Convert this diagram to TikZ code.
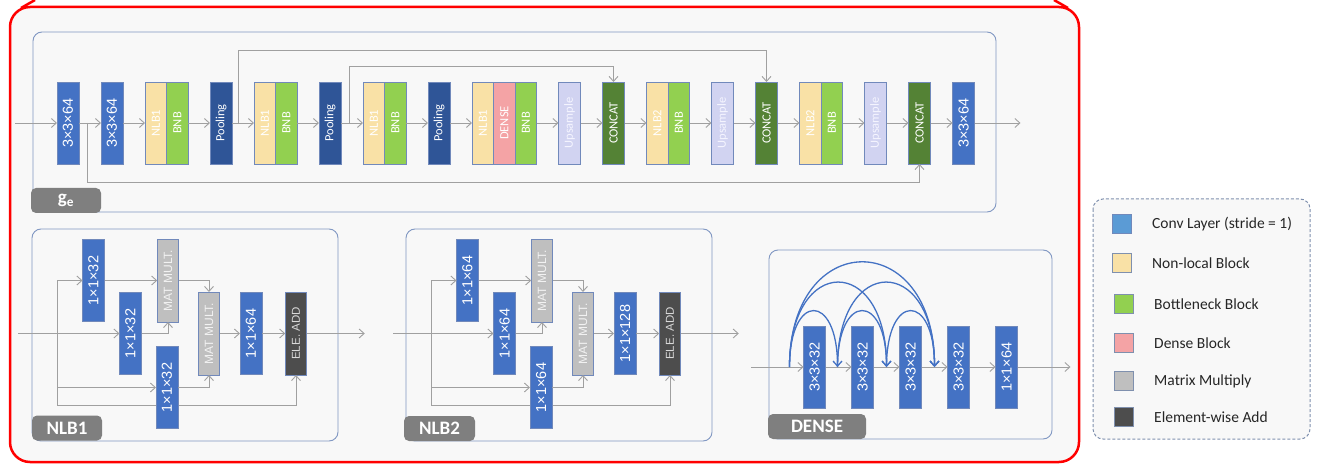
\documentclass[tikz,border=0pt]{standalone}
\usepackage{fontspec}
\setmainfont{Carlito}
\newfontfamily\dimfont{Liberation Sans}
\usepackage{xcolor}
\usepackage{tikz}
\usetikzlibrary{positioning}
\usetikzlibrary{arrows.meta}
\definecolor{convblue}{HTML}{4472C4}
\definecolor{pooldark}{HTML}{2F5597}
\definecolor{nlbyellow}{HTML}{F9E1A6}
\definecolor{bnbgreen}{HTML}{92D050}
\definecolor{densepink}{HTML}{F4A3A5}
\definecolor{upslav}{HTML}{D1D3F1}
\definecolor{catgreen}{HTML}{548235}
\definecolor{mmgray}{HTML}{BFBFBF}
\definecolor{addgray}{HTML}{4D4D4D}
\definecolor{boxline}{HTML}{7189BB}
\definecolor{panelline}{HTML}{8097C2}
\definecolor{linegray}{HTML}{A0A0A0}
\definecolor{tabgray}{HTML}{7F7F7F}
\definecolor{bgfill}{HTML}{F8F8F8}
\definecolor{keyblue}{HTML}{5B9BD5}
\definecolor{keyline}{HTML}{7F90AE}
\tikzset{edge/.style = {-{Straight Barb[length=5pt,width=9pt]}, linegray, line width=0.9pt}}
\newcommand{\vlab}[1]{\rotatebox{90}{#1}}

\begin{document}
\begin{tikzpicture}[x=1pt,y=-1pt,
  blk/.style={draw=boxline,line width=0.8pt,outer sep=0pt,inner sep=0pt,minimum width=21.5pt,minimum height=82pt,text=white,font=\fontsize{12.5}{13}\selectfont},
  conv/.style={blk,fill=convblue,minimum width=22pt,font=\dimfont\fontsize{14.5}{15}\selectfont},
  pool/.style={blk,fill=pooldark,minimum width=22pt},
  nlb/.style={blk,fill=nlbyellow},
  bnb/.style={blk,fill=bnbgreen},
  dns/.style={blk,fill=densepink},
  ups/.style={blk,fill=upslav,minimum width=22pt,text=white!96!blue},
  cat/.style={blk,fill=catgreen,minimum width=22pt},
  mm/.style={blk,fill=mmgray,minimum height=83pt,text=white!95!black,font=\dimfont\fontsize{12}{12}\selectfont},
  add/.style={blk,fill=addgray,minimum height=83pt,text=white!85!black,font=\dimfont\fontsize{11.5}{12}\selectfont},
  panel/.style={draw=panelline,line width=0.9pt,rounded corners=9pt,fill=bgfill},
  tab/.style={fill=tabgray,rounded corners=5pt,text=white,inner sep=0pt,minimum height=25pt,font=\bfseries\fontsize{19}{20}\selectfont},
  arc/.style={-{Straight Barb[length=5pt,width=9pt]},draw=convblue,line width=1.3pt},
  key/.style={draw=keyline,line width=1pt,minimum size=19pt,inner sep=0pt},
  keytext/.style={inner sep=0pt,anchor=west,text=black!85,font=\fontsize{15.5}{16}\selectfont}]
\useasboundingbox (0,0) rectangle (1321,470);
\draw[red,line width=2.5pt,fill=bgfill,rounded corners=20pt] (10,7) rectangle (1079,462);
\draw[red,line width=2.5pt] (21,8) -- (35,0);
\draw[red,line width=2.5pt] (1054,0) -- (1068,8);
\draw[panel] (33,32) rectangle (996,212);
\draw[panel] (32,229) rectangle (338,441);
\draw[panel] (406,229) rectangle (712,441);
\draw[panel] (769,250) rectangle (1052,439);
\draw[draw=keyline,fill=bgfill,line width=1pt,dash pattern=on 3pt off 2pt,rounded corners=10pt] (1093,199) rectangle (1310,439);

\node[tab,minimum width=70pt] (tge) at (66,200.5) {g\textsubscript{e}};
\node[tab,minimum width=70pt] (tn1) at (67,428) {NLB1};
\node[tab,minimum width=71pt] (tn2) at (439.5,428.5) {NLB2};
\node[tab,minimum width=98pt] (tds) at (817,426.5) {DENSE};

\node[conv] (c1) at (68,123) {\vlab{3×3×64}};
\node[conv,right=22pt of c1] (c2) {\vlab{3×3×64}};
\node[nlb,right=22pt of c2] (e1a) {\vlab{NLB1}};
\node[bnb,right=0pt of e1a] (e1b) {\vlab{BNB}};
\node[pool,right=22pt of e1b] (p1) {\vlab{Pooling}};
\node[nlb,right=22pt of p1] (e2a) {\vlab{NLB1}};
\node[bnb,right=0pt of e2a] (e2b) {\vlab{BNB}};
\node[pool,right=22pt of e2b] (p2) {\vlab{Pooling}};
\node[nlb,right=22pt of p2] (e3a) {\vlab{NLB1}};
\node[bnb,right=0pt of e3a] (e3b) {\vlab{BNB}};
\node[pool,right=22pt of e3b] (p3) {\vlab{Pooling}};
\node[nlb,right=22pt of p3] (mida) {\vlab{NLB1}};
\node[dns,right=0pt of mida] (midb) {\vlab{DENSE}};
\node[bnb,right=0pt of midb] (midc) {\vlab{BNB}};
\node[ups,right=22pt of midc] (u1) {\vlab{Upsample}};
\node[cat,right=22pt of u1] (k1) {\vlab{CONCAT}};
\node[nlb,right=22pt of k1] (d1a) {\vlab{NLB2}};
\node[bnb,right=0pt of d1a] (d1b) {\vlab{BNB}};
\node[ups,right=22pt of d1b] (u2) {\vlab{Upsample}};
\node[cat,right=22pt of u2] (k2) {\vlab{CONCAT}};
\node[nlb,right=22pt of k2] (d2a) {\vlab{NLB2}};
\node[bnb,right=0pt of d2a] (d2b) {\vlab{BNB}};
\node[ups,right=22pt of d2b] (u3) {\vlab{Upsample}};
\node[cat,right=22pt of u3] (k3) {\vlab{CONCAT}};
\node[conv,right=22pt of k3] (c3) {\vlab{3×3×64}};
\coordinate (gin) at (15,123);
\coordinate[right=46pt of c3] (gout);
\coordinate[right=8pt of c1] (sk0);
\coordinate[right=6pt of p1] (sk1);
\coordinate[right=8pt of p2] (sk2);
\path[edge] (gin) edge (c1) (c1) edge (c2) (c2) edge (e1a) (e1b) edge (p1) (p1) edge (e2a)
  (e2b) edge (p2) (p2) edge (e3a) (e3b) edge (p3) (p3) edge (mida) (midc) edge (u1)
  (u1) edge (k1) (k1) edge (d1a) (d1b) edge (u2) (u2) edge (k2) (k2) edge (d2a)
  (d2b) edge (u3) (u3) edge (k3) (k3) edge (c3) (c3) edge (gout);
\draw[edge] (sk0) -- ++(0,59) -| (k3);
\draw[edge] (sk1) -- ++(0,-73) -| (k2);
\draw[edge] (sk2) -- ++(0,-57) -| (k1);

\node[conv] (n1a) at (93.5,280.5) {\vlab{1×1×32}};
\node[conv] (n1b) at (130.5,333.5) {\vlab{1×1×32}};
\node[mm] (n1m) at (168,280.5) {\vlab{MAT MULT.}};
\node[mm] (n1n) at (209,333.5) {\vlab{MAT MULT.}};
\node[conv] (n1d) at (251,333.5) {\vlab{1×1×64}};
\node[add] (n1e) at (296,333.5) {\vlab{ELE. ADD}};
\coordinate (n1in) at (18,333.5);
\coordinate (n1br) at (57,333.5);
\coordinate[right=58pt of n1e] (n1out);
\draw[edge] (n1br) -- ++(0,72) -| (n1e);
\node[conv] (n1c) at (167,387.5) {\vlab{1×1×32}};
\draw[edge] (n1br) |- (n1a);
\draw[edge] (n1br) |- (n1c);
\draw[edge] (n1b) -| (n1m);
\draw[edge] (n1m) -| (n1n);
\draw[edge] (n1c) -| (n1n);
\path[edge] (n1in) edge (n1b) (n1a) edge (n1m) (n1n) edge (n1d) (n1d) edge (n1e) (n1e) edge (n1out);

\node[conv] (n2a) at (467.5,280.5) {\vlab{1×1×64}};
\node[conv] (n2b) at (504.5,333.5) {\vlab{1×1×64}};
\node[mm] (n2m) at (542,280.5) {\vlab{MAT MULT.}};
\node[mm] (n2n) at (583,333.5) {\vlab{MAT MULT.}};
\node[conv] (n2d) at (625,333.5) {\vlab{1×1×128}};
\node[add] (n2e) at (670,333.5) {\vlab{ELE. ADD}};
\coordinate (n2in) at (393,333.5);
\coordinate (n2br) at (431,333.5);
\coordinate[right=58pt of n2e] (n2out);
\draw[edge] (n2br) -- ++(0,72) -| (n2e);
\node[conv] (n2c) at (541,387.5) {\vlab{1×1×64}};
\draw[edge] (n2br) |- (n2a);
\draw[edge] (n2br) |- (n2c);
\draw[edge] (n2b) -| (n2m);
\draw[edge] (n2m) -| (n2n);
\draw[edge] (n2c) -| (n2n);
\path[edge] (n2in) edge (n2b) (n2a) edge (n2m) (n2n) edge (n2d) (n2d) edge (n2e) (n2e) edge (n2out);

\node[conv] (x1) at (814.5,367) {\vlab{3×3×32}};
\node[conv,right=26pt of x1] (x2) {\vlab{3×3×32}};
\node[conv,right=26pt of x2] (x3) {\vlab{3×3×32}};
\node[conv,right=26pt of x3] (x4) {\vlab{3×3×32}};
\node[conv,right=26pt of x4] (x5) {\vlab{1×1×64}};
\coordinate (xin) at (751,367);
\coordinate[right=53pt of x5] (xout);
\coordinate[left=14pt of x1] (q0);
\coordinate[right=12pt of x1] (q1);
\coordinate[right=13pt of x2] (q2);
\coordinate[right=13pt of x3] (q3);
\path[edge] (xin) edge (x1) (x1) edge (x2) (x2) edge (x3) (x3) edge (x4) (x4) edge (x5) (x5) edge (xout);
\draw[arc] (q0) .. controls +(0,-75) and +(0,-75) .. (q1);
\draw[arc] (q0) .. controls +(0,-113) and +(0,-113) .. (q2);
\draw[arc] (q0) .. controls +(0,-140) and +(0,-140) .. (q3);
\draw[arc] (q1) .. controls +(0,-75) and +(0,-75) .. (q2);
\draw[arc] (q1) .. controls +(0,-113) and +(0,-113) .. (q3);
\draw[arc] (q2) .. controls +(0,-75) and +(0,-75) .. (q3);

\node[key,fill=keyblue,draw=boxline] (l1) at (1122,224) {};
\node[key,fill=nlbyellow] (l2) at (1122,263) {};
\node[key,fill=bnbgreen] (l3) at (1124,304) {};
\node[key,fill=densepink] (l4) at (1124,343) {};
\node[key,fill=mmgray] (l5) at (1124,381) {};
\node[key,fill=addgray] (l6) at (1124,417) {};
\node[keytext,right=20pt of l1] (t1) {Conv Layer (stride = 1)};
\node[keytext,right=20pt of l2] (t2) {Non-local Block};
\node[keytext,right=20pt of l3] (t3) {Bottleneck Block};
\node[keytext,right=20pt of l4] (t4) {Dense Block};
\node[keytext,right=20pt of l5] (t5) {Matrix Multiply};
\node[keytext,right=20pt of l6] (t6) {Element-wise Add};
\end{tikzpicture}
\end{document}
